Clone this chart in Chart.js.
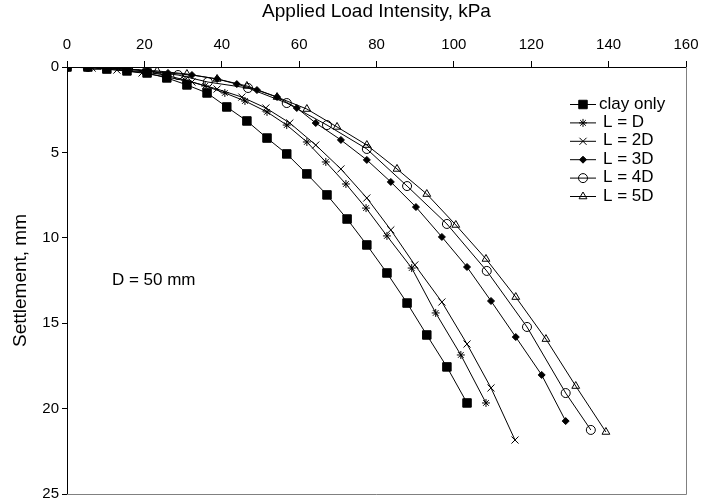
<!DOCTYPE html>
<html>
<head>
<meta charset="utf-8">
<script src="https://cdn.jsdelivr.net/npm/chart.js@4/dist/chart.umd.min.js"></script>
<style>
  html, body { margin: 0; padding: 0; background: #fff; }
  #chart { display: block; }
</style>
</head>
<body>
<canvas id="chart" width="706" height="501"></canvas>
<script>
// load (kPa) vs settlement (mm)
var seriesNames = ["clay only", "L = D", "L = 2D", "L = 3D", "L = 4D", "L = 5D"];

var loadClay   = [0, 5.4, 10.3, 15.5, 20.7, 25.8, 31.0, 36.2, 41.3, 46.5, 51.7, 56.8, 62.0, 67.2, 72.4, 77.5, 82.7, 87.9, 93.0, 98.2, 103.4];
var settleClay = [0, 0, 0.12, 0.23, 0.35, 0.64, 1.05, 1.52, 2.34, 3.16, 4.16, 5.09, 6.26, 7.49, 8.9, 10.42, 12.06, 13.82, 15.69, 17.56, 19.67];

var loadL1   = [0, 4.9, 9.8, 15.0, 20.2, 25.3, 30.5, 35.7, 40.8, 46.0, 51.7, 56.8, 62.0, 66.9, 72.1, 77.3, 82.7, 89.1, 95.3, 101.8, 108.3];
var settleL1 = [0, 0, 0.06, 0.18, 0.29, 0.47, 0.76, 1.11, 1.52, 1.99, 2.63, 3.40, 4.39, 5.56, 6.85, 8.26, 9.89, 11.77, 14.40, 16.86, 19.67];

var loadL2   = [0, 6.5, 12.9, 19.4, 25.8, 32.3, 38.8, 45.2, 51.4, 57.6, 64.3, 70.8, 77.5, 83.7, 89.9, 96.9, 103.4, 109.6, 115.8];
var settleL2 = [0, 0.06, 0.18, 0.35, 0.59, 0.88, 1.29, 1.76, 2.40, 3.28, 4.57, 5.97, 7.67, 9.54, 11.59, 13.76, 16.22, 18.79, 21.84];

var loadL3   = [0, 5.4, 10.6, 15.8, 20.9, 26.1, 32.3, 38.8, 43.9, 49.1, 54.3, 59.4, 64.3, 70.8, 77.5, 83.7, 90.2, 96.9, 103.4, 109.6, 116.0, 122.7, 128.9];
var settleL3 = [0, 0, 0.06, 0.12, 0.23, 0.35, 0.47, 0.70, 1.00, 1.35, 1.76, 2.40, 3.28, 4.27, 5.44, 6.73, 8.20, 9.95, 11.71, 13.70, 15.81, 18.03, 20.73];

var loadL4   = [0, 5.4, 15.8, 28.7, 36.4, 46.8, 56.8, 67.2, 77.5, 87.9, 98.2, 108.5, 118.9, 128.9, 135.4];
var settleL4 = [0, 0, 0.12, 0.47, 0.88, 1.23, 2.11, 3.40, 4.80, 6.97, 9.19, 11.94, 15.22, 19.09, 21.25];

var loadL5   = [0, 7.8, 15.5, 23.3, 31.0, 38.8, 46.5, 54.3, 62.0, 69.8, 77.5, 85.3, 93.0, 100.5, 108.3, 116.0, 123.8, 131.5, 139.3];
var settleL5 = [0, 0, 0.12, 0.23, 0.41, 0.70, 1.11, 1.76, 2.46, 3.51, 4.57, 5.97, 7.44, 9.25, 11.24, 13.47, 15.93, 18.68, 21.37];

var loadTicks = [0, 20, 40, 60, 80, 100, 120, 140, 160];
var settleTicks = [0, 5, 10, 15, 20, 25];

var FONT = "'Liberation Sans', Arial, sans-serif";

function toPoints(xs, ys) {
    var pts = [];
    for (var i = 0; i < xs.length; i++) {
        pts.push({ x: xs[i], y: ys[i] });
    }
    return pts;
}

function makeSet(name, xs, ys, style, radius, fill) {
    return {
        label: name,
        data: toPoints(xs, ys),
        showLine: true,
        borderColor: "#000",
        borderWidth: 1,
        pointStyle: style,
        pointRadius: radius,
        pointBorderWidth: 1,
        pointBorderColor: "#000",
        pointBackgroundColor: fill,
        tension: 0
    };
}

var datasets = [
    makeSet(seriesNames[0], loadClay, settleClay, "rect", 6, "#000"),
    makeSet(seriesNames[1], loadL1, settleL1, "star", 4, "#000"),
    makeSet(seriesNames[2], loadL2, settleL2, "crossRot", 5, "#000"),
    makeSet(seriesNames[3], loadL3, settleL3, "rectRot", 3.5, "#000"),
    makeSet(seriesNames[4], loadL4, settleL4, "circle", 4.5, "rgba(0,0,0,0)"),
    makeSet(seriesNames[5], loadL5, settleL5, "triangle", 4.5, "rgba(0,0,0,0)")
];

// gray plot-area frame on the right and bottom
var frame = {
    id: "frame",
    beforeDatasetsDraw: function (chart) {
        var a = chart.chartArea, ctx = chart.ctx;
        ctx.save();
        ctx.strokeStyle = "#808080";
        ctx.lineWidth = 1;
        ctx.beginPath();
        ctx.moveTo(a.right + 0.5, a.top);
        ctx.lineTo(a.right + 0.5, a.bottom + 0.5);
        ctx.lineTo(a.left, a.bottom + 0.5);
        ctx.stroke();
        ctx.restore();
    }
};

// legend with line + marker, and the D = 50 mm note
var extras = {
    id: "extras",
    afterDraw: function (chart) {
        var ctx = chart.ctx;
        ctx.save();
        ctx.textBaseline = "middle";
        ctx.textAlign = "left";
        for (var i = 0; i < datasets.length; i++) {
            var ds = datasets[i];
            var y = 104 + i * 18.4;
            ctx.strokeStyle = "#000";
            ctx.lineWidth = 1;
            ctx.beginPath();
            ctx.moveTo(570, y + 0.5);
            ctx.lineTo(596, y + 0.5);
            ctx.stroke();
            ctx.fillStyle = ds.pointBackgroundColor;
            Chart.helpers.drawPoint(ctx, {
                pointStyle: ds.pointStyle,
                radius: ds.pointRadius,
                borderWidth: 1,
                rotation: 0
            }, 583, y + 0.5);
            ctx.fillStyle = "#000";
            ctx.font = "17px " + FONT;
            ctx.fillText(ds.label, i === 0 ? 599 : 603, y);
        }
        var xs = chart.scales.x, ys = chart.scales.y;
        ctx.font = "17px " + FONT;
        ctx.fillText("D = 50 mm", xs.getPixelForValue(11.6), ys.getPixelForValue(12.5));
        ctx.restore();
    }
};

new Chart(document.getElementById("chart"), {
    type: "scatter",
    data: { datasets: datasets },
    plugins: [frame, extras],
    options: {
        responsive: false,
        animation: false,
        layout: { padding: { top: 0, left: 0, right: 20, bottom: 0 } },
        plugins: {
            legend: { display: false },
            tooltip: { enabled: false }
        },
        scales: {
            x: {
                type: "linear",
                position: "top",
                min: loadTicks[0],
                max: loadTicks[loadTicks.length - 1],
                afterBuildTicks: function (s) { s.ticks = loadTicks.map(function (v) { return { value: v }; }); },
                afterFit: function (s) { s.height = 67; },
                ticks: { color: "#000", font: { family: FONT, size: 15 }, padding: 7, maxRotation: 0 },
                grid: { drawOnChartArea: false, tickLength: 6, tickColor: "#000" },
                border: { color: "#000", width: 1 },
                title: { display: true, text: "Applied Load Intensity, kPa", color: "#000", font: { family: FONT, size: 19 }, padding: { top: 0, bottom: 0 } }
            },
            y: {
                type: "linear",
                reverse: true,
                min: settleTicks[0],
                max: settleTicks[settleTicks.length - 1],
                afterBuildTicks: function (s) { s.ticks = settleTicks.map(function (v) { return { value: v }; }); },
                afterFit: function (s) { s.width = 67; s.paddingTop = 0; s.paddingBottom = 7; },
                ticks: { color: "#000", font: { family: FONT, size: 15 }, padding: 3 },
                grid: { drawOnChartArea: false, tickLength: 5, tickColor: "#000" },
                border: { color: "#000", width: 1 },
                title: { display: true, text: "Settlement, mm", color: "#000", font: { family: FONT, size: 19 }, padding: { top: 9, bottom: 0 } }
            }
        }
    }
});
</script>
</body>
</html>
